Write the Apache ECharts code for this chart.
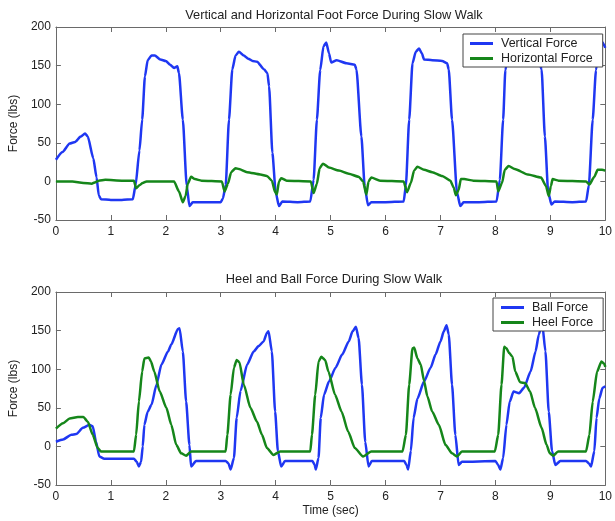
<!DOCTYPE html>
<html>
<head>
<meta charset="utf-8">
<title>Foot Force During Slow Walk</title>
<script src="https://cdn.jsdelivr.net/npm/echarts@6/dist/echarts.min.js"></script>
<style>
  html, body { margin: 0; padding: 0; background: #ffffff; }
  #chart { width: 615px; height: 521px; }
</style>
</head>
<body>
<div id="chart"></div>
<script>
// Time axis ticks (seconds) and force ticks (lbs)
const timeTicks = [0, 1, 2, 3, 4, 5, 6, 7, 8, 9, 10];
const forceTicks = [-50, 0, 50, 100, 150, 200];

// Vertical foot force, [time (s), force (lbs)]
const verticalForce = [
  [0,28],[0.12,38],[0.25,49],[0.35,51],[0.45,58],[0.53,62],[0.58,58],[0.68,30],[0.74,5],[0.78,-18],[0.82,-23],
  [1.0,-24],[1.2,-24],[1.40,-23],[1.45,-5],[1.52,40],[1.57,80],[1.62,136],[1.67,157],[1.74,163],[1.80,163],
  [1.90,158],[2.0,156],[2.08,151],[2.15,147],[2.21,149],[2.24,140],[2.31,80],[2.38,-5],[2.43,-32],[2.49,-27],
  [2.7,-27],[3.0,-27],[3.04,-22],[3.09,-5],[3.15,80],[3.21,145],[3.27,163],[3.33,168],[3.42,163],[3.50,159],
  [3.58,156],[3.66,155],[3.79,145],[3.85,140],[3.88,123],[3.94,37],[4.0,-14],[4.06,-32],[4.12,-26],[4.4,-27],
  [4.63,-26],[4.69,2],[4.75,80],[4.81,144],[4.87,175],[4.92,180],[4.97,166],[5.01,154],[5.11,157],[5.29,153],
  [5.44,151],[5.47,145],[5.56,58],[5.62,-6],[5.68,-31],[5.74,-27],[6.0,-27],[6.33,-26],[6.37,-5],[6.43,80],
  [6.49,153],[6.55,168],[6.61,172],[6.66,166],[6.70,158],[6.85,157],[7.03,156],[7.12,153],[7.15,145],[7.21,80],
  [7.30,-14],[7.36,-32],[7.42,-27],[7.7,-27],[8.02,-26],[8.08,2],[8.14,80],[8.18,144],[8.24,168],[8.30,170],
  [8.40,162],[8.60,158],[8.80,155],[8.84,145],[8.90,58],[8.96,-14],[9.02,-30],[9.08,-26],[9.4,-27],[9.65,-26],
  [9.70,-5],[9.77,80],[9.83,144],[9.90,179],[9.94,181],[10,173]
];

// Horizontal foot force, [time (s), force (lbs)]
const horizontalForce = [
  [0,0],[0.3,0],[0.5,-2],[0.65,-3],[0.72,-1],[0.78,1],[0.9,2],[1.2,1],[1.42,1],[1.46,-9],[1.52,-5],[1.58,-2],
  [1.65,0],[2.15,0],[2.24,-13],[2.31,-27],[2.36,-19],[2.40,-3],[2.46,6],[2.53,3],[2.65,1],[3.02,0],[3.07,-13],
  [3.13,-3],[3.19,12],[3.27,17],[3.33,16],[3.48,12],[3.72,9],[3.84,7],[3.93,1],[3.99,-14],[4.02,-17],[4.06,0],
  [4.10,4],[4.2,1],[4.64,0],[4.69,-15],[4.75,-3],[4.80,17],[4.86,23],[4.97,18],[5.15,14],[5.33,10],[5.51,6],
  [5.59,0],[5.65,-17],[5.69,0],[5.74,5],[5.9,1],[6.33,0],[6.39,-14],[6.46,-2],[6.52,14],[6.58,19],[6.7,15],
  [6.85,12],[7.03,7],[7.18,1],[7.24,-8],[7.28,-18],[7.33,-11],[7.37,3],[7.43,3],[7.6,1],[8.02,0],[8.05,-13],
  [8.12,-2],[8.17,15],[8.24,20],[8.35,16],[8.59,9],[8.83,5],[8.92,-6],[8.97,-19],[9.01,-6],[9.04,3],[9.15,1],
  [9.65,0],[9.71,-4],[9.80,6],[9.86,15],[9.94,15],[10,14]
];

// Ball-of-foot force, [time (s), force (lbs)]
const ballForce = [
  [0,6],[0.13,9],[0.28,15],[0.37,16],[0.49,24],[0.61,28],[0.67,26],[0.73,6],[0.79,-13],[0.88,-16],[1.42,-16],
  [1.47,-20],[1.51,-26],[1.55,-20],[1.58,0],[1.61,28],[1.67,45],[1.74,54],[1.83,80],[1.92,106],[2.04,123],
  [2.10,132],[2.22,152],[2.25,153],[2.31,123],[2.37,58],[2.43,2],[2.46,-26],[2.55,-19],[3.09,-19],[3.14,-22],
  [3.18,-30],[3.24,-15],[3.29,37],[3.36,72],[3.48,106],[3.60,123],[3.69,130],[3.78,136],[3.84,147],[3.87,149],
  [3.93,123],[3.99,45],[4.04,-6],[4.10,-26],[4.17,-19],[4.67,-19],[4.71,-24],[4.73,-30],[4.78,-15],[4.82,37],
  [4.88,67],[4.97,84],[5.09,102],[5.21,119],[5.33,136],[5.40,149],[5.46,155],[5.51,140],[5.57,80],[5.63,6],
  [5.69,-26],[5.75,-19],[6.34,-19],[6.38,-24],[6.41,-30],[6.46,-6],[6.51,37],[6.58,62],[6.70,84],[6.82,102],
  [6.91,119],[7.00,136],[7.06,149],[7.11,157],[7.15,145],[7.21,80],[7.27,15],[7.33,-24],[7.39,-20],[8.0,-19],
  [8.05,-24],[8.09,-30],[8.14,-15],[8.20,28],[8.26,58],[8.33,71],[8.43,69],[8.52,76],[8.64,97],[8.73,123],
  [8.79,145],[8.85,160],[8.91,123],[8.97,45],[9.03,-6],[9.09,-24],[9.18,-19],[9.65,-19],[9.70,-22],[9.74,-26],
  [9.80,-6],[9.84,37],[9.89,62],[9.95,76],[10,78]
];

// Heel force, [time (s), force (lbs)]
const heelForce = [
  [0,23],[0.13,30],[0.25,36],[0.40,38],[0.50,38],[0.58,32],[0.67,15],[0.76,-2],[0.82,-6.5],[1.42,-6.5],
  [1.46,15],[1.51,58],[1.57,97],[1.61,114],[1.69,115],[1.73,110],[1.79,97],[1.89,71],[2.01,50],[2.10,28],
  [2.19,2],[2.28,-9],[2.37,-12],[2.46,-6.5],[3.09,-6.5],[3.12,15],[3.18,67],[3.24,102],[3.29,112],[3.34,109],
  [3.42,80],[3.54,50],[3.66,32],[3.75,15],[3.84,-2],[3.96,-11],[4.08,-6.5],[4.63,-6.5],[4.66,15],[4.72,67],
  [4.78,110],[4.83,116],[4.90,112],[4.96,97],[5.08,67],[5.20,45],[5.32,19],[5.44,-2],[5.59,-13],[5.74,-6.5],
  [6.31,-6.5],[6.37,15],[6.43,80],[6.49,127],[6.52,128],[6.58,114],[6.64,106],[6.70,85],[6.76,65],[6.85,45],
  [6.97,28],[7.09,2],[7.21,-9],[7.30,-13],[7.39,-6.5],[7.99,-6.5],[8.05,15],[8.11,80],[8.16,129],[8.20,127],
  [8.25,121],[8.31,116],[8.36,97],[8.45,83],[8.54,82],[8.63,71],[8.72,50],[8.84,24],[8.93,2],[8.99,-9],
  [9.05,-12],[9.14,-6.5],[9.65,-6.5],[9.71,15],[9.77,58],[9.85,97],[9.93,110],[9.98,107],[10,103]
];

const BLUE = '#1f37f2';
const GREEN = '#15861a';
const FONT = '"Liberation Sans", Arial, sans-serif';
const frameColor = '#6a6a6a';
const textColor = '#222';

const plotLeft = 49, plotWidth = 558, plotHeight = 193;
const topGridTop = 27, bottomGridTop = 292;

function xAxes(gridIndex, withName) {
  const base = {
    type: 'value', gridIndex, min: timeTicks[0], max: timeTicks[timeTicks.length - 1], interval: 1,
    splitLine: { show: false },
    axisLine: { show: true, onZero: false, lineStyle: { color: frameColor, width: 1 } },
    axisTick: { show: true, inside: true, length: 5, lineStyle: { color: frameColor } }
  };
  return [
    Object.assign({}, base, {
      position: 'bottom',
      axisLabel: { show: true, color: textColor, fontFamily: FONT, fontSize: 12, margin: 6 },
      name: withName ? 'Time (sec)' : '',
      nameLocation: 'middle', nameGap: 20,
      nameTextStyle: { color: textColor, fontFamily: FONT, fontSize: 12 }
    }),
    Object.assign({}, base, { position: 'top', axisLabel: { show: false } })
  ];
}

function yAxes(gridIndex) {
  const base = {
    type: 'value', gridIndex, min: forceTicks[0], max: forceTicks[forceTicks.length - 1], interval: 50,
    splitLine: { show: false },
    axisLine: { show: true, onZero: false, lineStyle: { color: frameColor, width: 1 } },
    axisTick: { show: true, inside: true, length: 5, lineStyle: { color: frameColor } }
  };
  return [
    Object.assign({}, base, {
      position: 'left',
      axisLabel: { show: true, color: textColor, fontFamily: FONT, fontSize: 12, margin: 5 },
      name: 'Force (lbs)', nameLocation: 'middle', nameGap: 23,
      nameTextStyle: { color: textColor, fontFamily: FONT, fontSize: 12 }
    }),
    Object.assign({}, base, { position: 'right', axisLabel: { show: false } })
  ];
}

function lineSeries(name, data, color, axisIndex) {
  return {
    name, type: 'line', data,
    xAxisIndex: axisIndex, yAxisIndex: axisIndex,
    showSymbol: false, symbol: 'none',
    smooth: 0.2, smoothMonotone: 'x',
    lineStyle: { color, width: 2.5 },
    itemStyle: { color },
    animation: false
  };
}

function legendBox(names, left, top, padding) {
  return {
    data: names, orient: 'vertical', left, top,
    icon: 'rect', itemWidth: 23, itemHeight: 3, itemGap: 0,
    padding, borderColor: '#444', borderWidth: 1, backgroundColor: '#fff',
    textStyle: { color: textColor, fontFamily: FONT, fontSize: 12.5, lineHeight: 15, padding: [0, 0, 0, 3] },
    selectedMode: false
  };
}

const chart = echarts.init(document.getElementById('chart'), null, { renderer: 'canvas' });
chart.setOption({
  backgroundColor: '#ffffff',
  animation: false,
  title: [
    { text: 'Vertical and Horizontal Foot Force During Slow Walk', left: 329, top: 4, textAlign: 'center',
      textStyle: { color: textColor, fontFamily: FONT, fontSize: 12.8, fontWeight: 'normal' } },
    { text: 'Heel and Ball Force During Slow Walk', left: 329, top: 268, textAlign: 'center',
      textStyle: { color: textColor, fontFamily: FONT, fontSize: 12.8, fontWeight: 'normal' } }
  ],
  grid: [
    { left: plotLeft, top: topGridTop, width: plotWidth, height: plotHeight },
    { left: plotLeft, top: bottomGridTop, width: plotWidth, height: plotHeight }
  ],
  xAxis: [...xAxes(0, false), ...xAxes(1, true)],
  yAxis: [...yAxes(0), ...yAxes(1)],
  legend: [
    legendBox(['Vertical Force', 'Horizontal Force'], 463, 34, [2, 10, 1, 7]),
    legendBox(['Ball Force', 'Heel Force'], 493, 298, [2, 10, 1, 8])
  ],
  series: [
    lineSeries('Vertical Force', verticalForce, BLUE, 0),
    lineSeries('Horizontal Force', horizontalForce, GREEN, 0),
    lineSeries('Ball Force', ballForce, BLUE, 2),
    lineSeries('Heel Force', heelForce, GREEN, 2)
  ]
});
</script>
</body>
</html>
